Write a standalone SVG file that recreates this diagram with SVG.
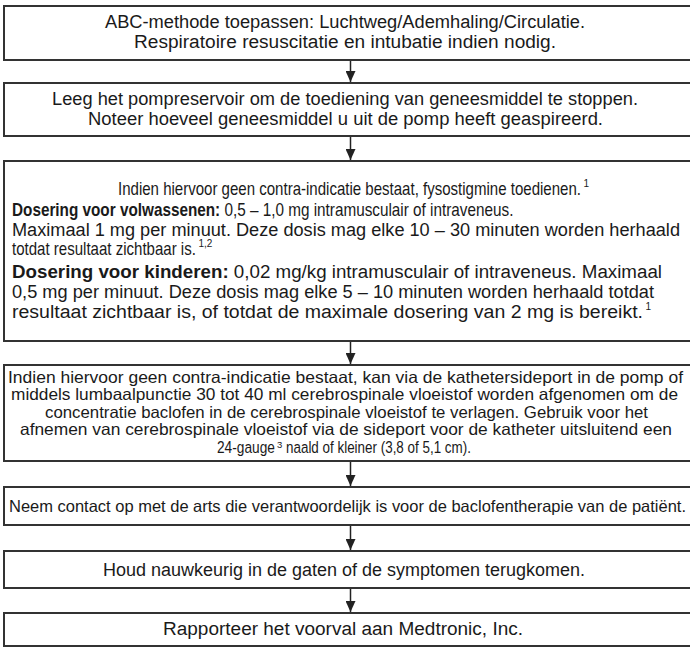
<svg xmlns="http://www.w3.org/2000/svg" width="690" height="647" viewBox="0 0 690 647">
  <style>
    .box { fill: #ffffff; stroke: #333333; stroke-width: 2; }
    .t { font-family: "Liberation Sans", Arial, sans-serif; font-size: 18px; fill: #1a1a1a; }
    .s { font-family: "Liberation Sans", Arial, sans-serif; font-size: 16.5px; fill: #1a1a1a; }
    .sup { font-family: "Liberation Sans", Arial, sans-serif; font-size: 10px; fill: #1a1a1a; }
    .b { font-weight: bold; }
    .flow { stroke: #222222; stroke-width: 1.5; fill: none; }
  </style>
  <defs>
    <marker id="arrow" viewBox="0 0 11 10" refX="11" refY="5" markerWidth="11" markerHeight="10" markerUnits="userSpaceOnUse" orient="auto">
      <path d="M0,0 L11,5 L0,10 z" fill="#222222"/>
    </marker>
  </defs>

  <!-- connectors -->
  <g id="connectors">
    <line class="flow" x1="350.5" y1="61" x2="350.5" y2="82" marker-end="url(#arrow)"/>
    <line class="flow" x1="350.5" y1="137" x2="350.5" y2="160" marker-end="url(#arrow)"/>
    <line class="flow" x1="350.5" y1="342" x2="350.5" y2="364" marker-end="url(#arrow)"/>
    <line class="flow" x1="350.5" y1="462" x2="350.5" y2="486" marker-end="url(#arrow)"/>
    <line class="flow" x1="350.5" y1="526" x2="350.5" y2="550" marker-end="url(#arrow)"/>
    <line class="flow" x1="350.5" y1="589" x2="350.5" y2="612" marker-end="url(#arrow)"/>
  </g>

  <!-- step 1 -->
  <g id="step-abc">
    <rect class="box" x="4" y="6" width="688" height="54"/>
    <text class="t" x="105" y="28" textLength="480" lengthAdjust="spacingAndGlyphs">ABC-methode toepassen: Luchtweg/Ademhaling/Circulatie.</text>
    <text class="t" x="134" y="48" textLength="422" lengthAdjust="spacingAndGlyphs">Respiratoire resuscitatie en intubatie indien nodig.</text>
  </g>

  <!-- step 2 -->
  <g id="step-reservoir">
    <rect class="box" x="4" y="83" width="688" height="53"/>
    <text class="t" x="52" y="105" textLength="586" lengthAdjust="spacingAndGlyphs">Leeg het pompreservoir om de toediening van geneesmiddel te stoppen.</text>
    <text class="t" x="88" y="125" textLength="515" lengthAdjust="spacingAndGlyphs">Noteer hoeveel geneesmiddel u uit de pomp heeft geaspireerd.</text>
  </g>

  <!-- step 3: condensed lines use a horizontal-only scale -->
  <g id="step-physostigmine">
    <rect class="box" x="4" y="161" width="688" height="180"/>
    <text class="t" transform="matrix(0.8355 0 0 1 118 195)">Indien hiervoor geen contra-indicatie bestaat, fysostigmine toedienen.</text>
    <text class="sup" x="583.5" y="187">1</text>
    <text class="t" transform="matrix(0.8506 0 0 1 12 215.5)"><tspan class="b">Dosering voor volwassenen:</tspan> 0,5 – 1,0 mg intramusculair of intraveneus.</text>
    <text class="t" x="12" y="235.5" textLength="668" lengthAdjust="spacingAndGlyphs">Maximaal 1 mg per minuut. Deze dosis mag elke 10 – 30 minuten worden herhaald</text>
    <text class="t" transform="matrix(0.836 0 0 1 12 255)">totdat resultaat zichtbaar is.</text>
    <text class="sup" x="198.5" y="247">1,2</text>
    <text class="t" x="12" y="278" textLength="650" lengthAdjust="spacingAndGlyphs"><tspan class="b">Dosering voor kinderen:</tspan> 0,02 mg/kg intramusculair of intraveneus. Maximaal</text>
    <text class="t" x="12" y="298" textLength="642" lengthAdjust="spacingAndGlyphs">0,5 mg per minuut. Deze dosis mag elke 5 – 10 minuten worden herhaald totdat</text>
    <text class="t" x="12" y="318" textLength="631" lengthAdjust="spacingAndGlyphs">resultaat zichtbaar is, of totdat de maximale dosering van 2 mg is bereikt.</text>
    <text class="sup" x="645.5" y="310">1</text>
  </g>

  <!-- step 4 -->
  <g id="step-csf">
    <rect class="box" x="4" y="365" width="688" height="96"/>
    <text class="s" x="8" y="382.5" textLength="675" lengthAdjust="spacingAndGlyphs">Indien hiervoor geen contra-indicatie bestaat, kan via de kathetersideport in de pomp of</text>
    <text class="s" x="11" y="400" textLength="667" lengthAdjust="spacingAndGlyphs">middels lumbaalpunctie 30 tot 40 ml cerebrospinale vloeistof worden afgenomen om de</text>
    <text class="s" x="45" y="417.5" textLength="603" lengthAdjust="spacingAndGlyphs">concentratie baclofen in de cerebrospinale vloeistof te verlagen. Gebruik voor het</text>
    <text class="s" x="20" y="435" textLength="652" lengthAdjust="spacingAndGlyphs">afnemen van cerebrospinale vloeistof via de sideport voor de katheter uitsluitend een</text>
    <text class="s" transform="matrix(0.832 0 0 1 217 452.5)">24-gauge</text>
    <text class="sup" x="277" y="448" style="font-size:9.5px">3</text>
    <text class="s" transform="matrix(0.8135 0 0 1 286 452.5)">naald of kleiner (3,8 of 5,1 cm).</text>
  </g>

  <!-- step 5 -->
  <g id="step-contact">
    <rect class="box" x="4" y="487" width="688" height="38"/>
    <text class="s" x="9" y="511.5" textLength="677" lengthAdjust="spacingAndGlyphs">Neem contact op met de arts die verantwoordelijk is voor de baclofentherapie van de patiënt.</text>
  </g>

  <!-- step 6 -->
  <g id="step-monitor">
    <rect class="box" x="4" y="551" width="688" height="37"/>
    <text class="t" x="103" y="575.5" textLength="482" lengthAdjust="spacingAndGlyphs">Houd nauwkeurig in de gaten of de symptomen terugkomen.</text>
  </g>

  <!-- step 7 -->
  <g id="step-report">
    <rect class="box" x="4" y="613" width="688" height="33"/>
    <text class="t" x="163" y="634.5" textLength="360" lengthAdjust="spacingAndGlyphs">Rapporteer het voorval aan Medtronic, Inc.</text>
  </g>
</svg>
